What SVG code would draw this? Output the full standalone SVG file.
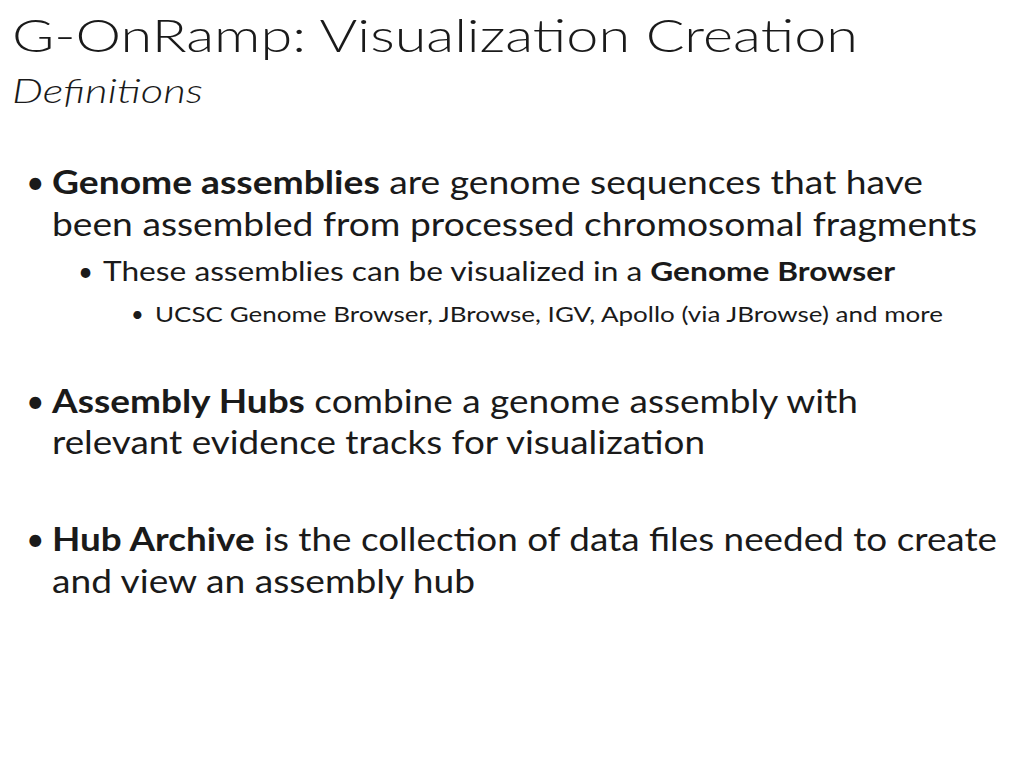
<svg xmlns="http://www.w3.org/2000/svg" width="1024" height="768" viewBox="0 0 1024 768">
<style>
text{font-family:Lato,"Open Sans","Liberation Sans",sans-serif;fill:#1a1a1a}
.b{font-weight:bold}
.l1{font-size:32px}
.l2{font-size:26px}
.l3{font-size:22px}
</style>
<rect width="1024" height="768" fill="#fff"/>
<g id="title">
<text x="12" y="52" font-size="46" font-weight="300" textLength="846" lengthAdjust="spacingAndGlyphs">G-OnRamp: Visualization Creation</text>
<text x="12" y="103" font-size="33" font-style="italic" font-weight="300" textLength="191" lengthAdjust="spacingAndGlyphs">Definitions</text>
</g>
<g id="bullet1">
<text x="26" y="194" class="l1">•</text>
<text x="52" y="194" class="l1" textLength="871" lengthAdjust="spacingAndGlyphs"><tspan class="b">Genome assemblies</tspan> are genome sequences that have</text>
<text x="52" y="236" class="l1" textLength="925" lengthAdjust="spacingAndGlyphs">been assembled from processed chromosomal fragments</text>
<text x="78" y="281" class="l2">•</text>
<text x="103" y="281" class="l2" textLength="792" lengthAdjust="spacingAndGlyphs">These assemblies can be visualized in a <tspan class="b">Genome Browser</tspan></text>
<text x="131" y="322" class="l3">•</text>
<text x="155" y="322" class="l3" textLength="788" lengthAdjust="spacingAndGlyphs">UCSC Genome Browser, JBrowse, IGV, Apollo (via JBrowse) and more</text>
</g>
<g id="bullet2">
<text x="26" y="413" class="l1">•</text>
<text x="52" y="413" class="l1" textLength="806" lengthAdjust="spacingAndGlyphs"><tspan class="b">Assembly Hubs</tspan> combine a genome assembly with</text>
<text x="52" y="454" class="l1" textLength="653" lengthAdjust="spacingAndGlyphs">relevant evidence tracks for visualization</text>
</g>
<g id="bullet3">
<text x="26" y="551" class="l1">•</text>
<text x="52" y="551" class="l1" textLength="945" lengthAdjust="spacingAndGlyphs"><tspan class="b">Hub Archive</tspan> is the collection of data files needed to create</text>
<text x="52" y="593" class="l1" textLength="423" lengthAdjust="spacingAndGlyphs">and view an assembly hub</text>
</g>
<g id="connectors"/>
</svg>
